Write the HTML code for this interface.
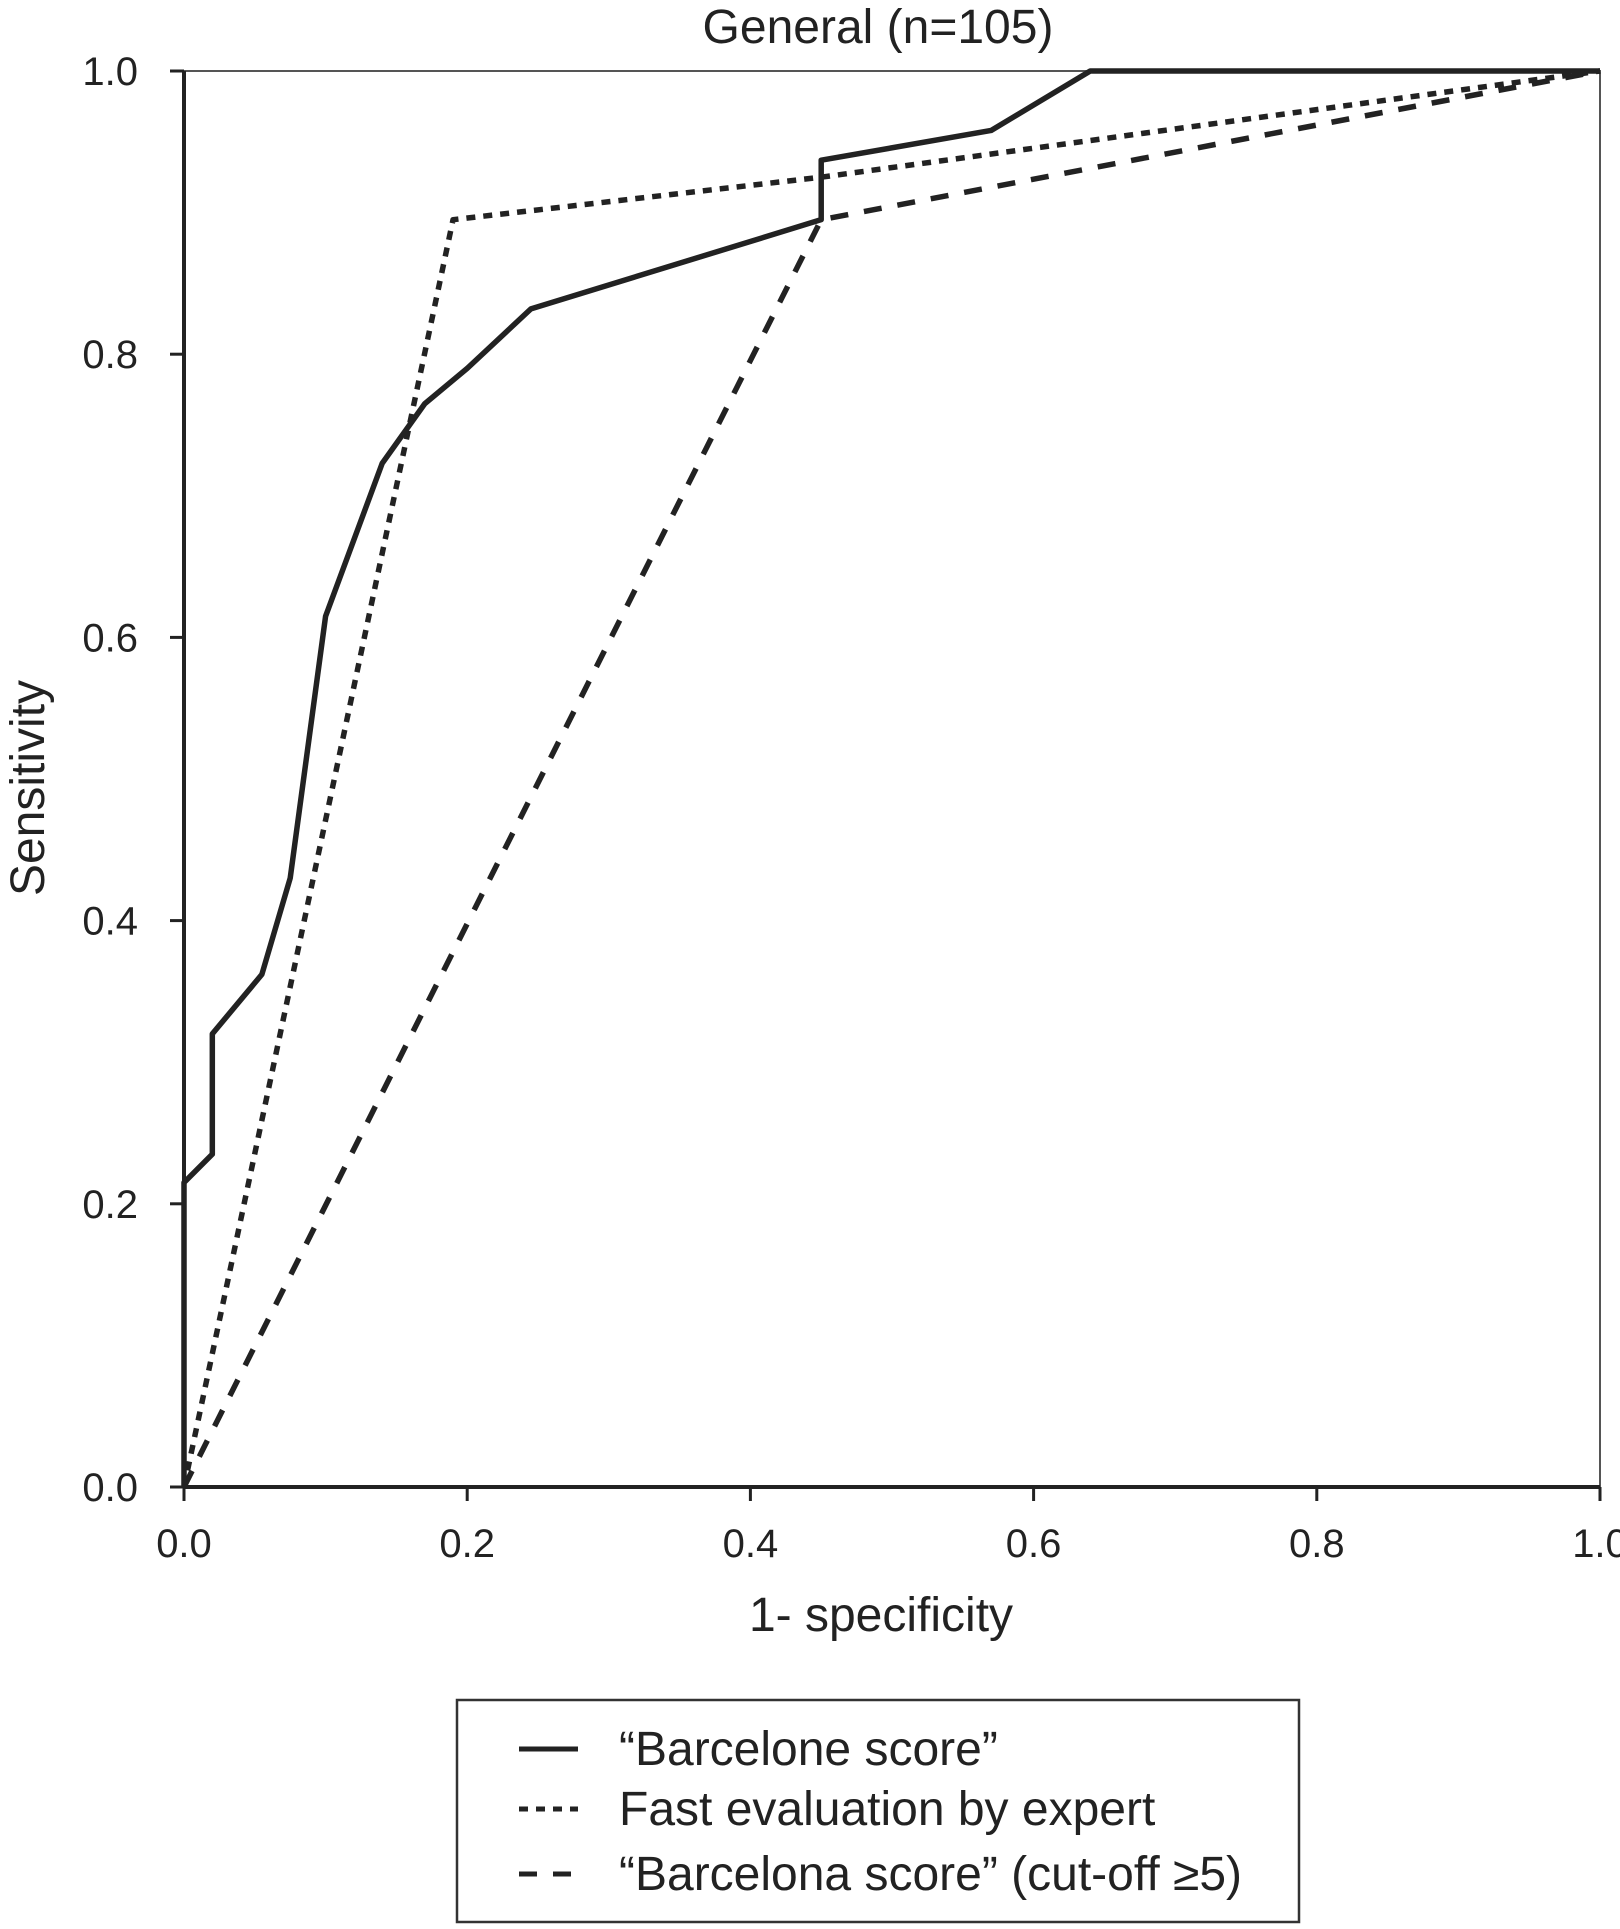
<!DOCTYPE html>
<html><head><meta charset="utf-8"><style>
body{margin:0;background:#fff;}
svg text{font-family:"Liberation Sans",sans-serif;fill:#222;}
</style></head><body>
<svg width="1620" height="1924" viewBox="0 0 1620 1924">
<text x="878" y="43" font-size="48" text-anchor="middle">General (n=105)</text>
<g id="plot"></g>
<text x="881" y="1631" font-size="48" text-anchor="middle">1- specificity</text>
<text transform="translate(44,788) rotate(-90)" font-size="48" text-anchor="middle">Sensitivity</text>
<g>
<rect x="457" y="1700" width="842" height="222" fill="none" stroke="#333" stroke-width="2.5"/>
<g>
<line x1="519" y1="1749" x2="578" y2="1749" stroke="#222" stroke-width="5"/>
<text x="619" y="1765" font-size="48">“Barcelone score”</text></g>
<g>
<line x1="519" y1="1809" x2="578" y2="1809" stroke="#222" stroke-width="5" stroke-dasharray="9,8"/>
<text x="619" y="1825" font-size="48">Fast evaluation by expert</text></g>
<g>
<line x1="519" y1="1874" x2="578" y2="1874" stroke="#222" stroke-width="5" stroke-dasharray="18,16"/>
<text x="619" y="1890" font-size="48">“Barcelona score” (cut-off ≥5)</text></g>
</g>
</svg>
<script>
const ticks=[0,0.2,0.4,0.6,0.8,1.0];
const tickLabels=["0.0","0.2","0.4","0.6","0.8","1.0"];
const solidX=[0,0,0.02,0.02,0.055,0.075,0.1,0.14,0.17,0.2,0.245,0.45,0.45,0.57,0.64,1];
const solidY=[0,0.215,0.235,0.32,0.362,0.43,0.615,0.723,0.765,0.79,0.832,0.895,0.937,0.958,1,1];
const dottedX=[0,0.19,0.45,1];
const dottedY=[0,0.895,0.925,1];
const dashedX=[0,0.45,1];
const dashedY=[0,0.895,1];
const X0=184,X1=1600,Y0=1487,Y1=71;
const sx=v=>X0+(X1-X0)*v, sy=v=>Y0-(Y0-Y1)*v;
const NS="http://www.w3.org/2000/svg";
const g=document.getElementById('plot');
function mk(t,a){const e=document.createElementNS(NS,t);for(const k in a)e.setAttribute(k,a[k]);g.appendChild(e);return e;}
let f=mk('rect',{x:X0,y:Y1,width:X1-X0,height:Y0-Y1,fill:'none',stroke:'#555','stroke-width':2});


let ax=mk('line',{x1:X0,y1:Y0,x2:X1,y2:Y0,stroke:'#222','stroke-width':4});


let ay=mk('line',{x1:X0,y1:Y0,x2:X0,y2:Y1,stroke:'#222','stroke-width':4});


ticks.forEach((t,i)=>{
 let l=mk('line',{x1:sx(t),y1:Y0,x2:sx(t),y2:Y0+14,stroke:'#222','stroke-width':3});
 
 
 let tx=mk('text',{x:sx(t),y:Y0+70,'font-size':40,'text-anchor':'middle'});tx.textContent=tickLabels[i];
 
 
 let l2=mk('line',{x1:X0-14,y1:sy(t),x2:X0,y2:sy(t),stroke:'#222','stroke-width':3});
 
 
 let ty=mk('text',{x:X0-46,y:sy(t)+14,'font-size':40,'text-anchor':'end'});ty.textContent=tickLabels[i];
 
 
});
function series(xs,ys,dash,name){
 const p=mk('polyline',{points:xs.map((x,i)=>sx(x)+','+sy(ys[i])).join(' '),fill:'none',stroke:'#222','stroke-width':5.5,'stroke-linejoin':'round'});
 if(dash)p.setAttribute('stroke-dasharray',dash);
 
 
}
series(dashedX,dashedY,'18,16','series-barcelona-cutoff');
series(dottedX,dottedY,'9,8','series-fast-evaluation');
series(solidX,solidY,null,'series-barcelone-score');
</script>
</body></html>
